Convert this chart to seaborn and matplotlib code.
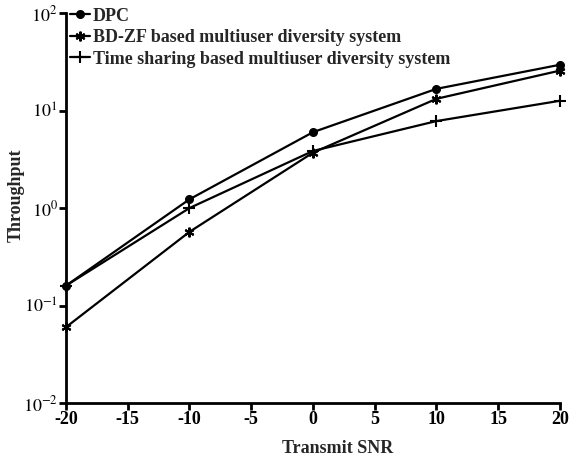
import matplotlib
matplotlib.use("Agg")
import matplotlib.pyplot as plt
import seaborn as sns
import pandas as pd

snr = [-20, -10, 0, 10, 20]
dpc = [0.16, 1.23, 6.0, 16.7, 29.5]
bdzf = [0.06, 0.57, 3.7, 13.2, 25.7]
tshare = [0.16, 1.0, 3.85, 7.8, 12.6]
names = ["DPC", "BD-ZF based multiuser diversity system",
         "Time sharing based multiuser diversity system"]
xticks = [-20, -15, -10, -5, 0, 5, 10, 15, 20]
markers = ["o", (6, 2, 0), "+"]
msizes = [5, 7, 8]

sns.set_style("ticks")
plt.rcParams['font.family'] = ['Liberation Serif', 'DejaVu Serif']
plt.rcParams['mathtext.fontset'] = 'stix'

fig = plt.figure(figsize=(5.71, 4.62), dpi=100)
ax = fig.add_axes([0.1156, 0.1277, 0.865, 0.844])
for vals, name, mk, ms in zip([dpc, bdzf, tshare], names, markers, msizes):
    d = pd.DataFrame({"snr": snr, "thr": vals})
    sns.lineplot(data=d, x="snr", y="thr", color="black", marker=mk,
                 markersize=ms, markeredgewidth=1.5, linewidth=1.6,
                 markeredgecolor="black", label=name, ax=ax, clip_on=False)
ax.set_yscale("log")
ax.set_ylim(1e-2, 1e2)
ax.set_xlim(-20, 20)
ax.set_xticks(xticks)
ax.set_xticklabels([str(t) for t in xticks])
ax.minorticks_off()
ax.set_yticks([1e-2, 1e-1, 1e0, 1e1, 1e2])
ax.set_yticklabels([r"$10^{-2}$", r"$10^{-1}$", r"$10^{0}$", r"$10^{1}$", r"$10^{2}$"])
for s in ["top", "right"]:
    ax.spines[s].set_visible(False)
for s in ["left", "bottom"]:
    ax.spines[s].set_linewidth(2)
    ax.spines[s].set_color("black")
ax.tick_params(axis="both", width=2, length=5, labelsize=13, direction="out",
               pad=1, color="black", labelcolor="black")
for lab in ax.get_xticklabels():
    lab.set_fontweight("bold")
ax.set_xlabel("Transmit SNR", fontsize=13, fontweight="bold")
ax.set_ylabel("Throughput", fontsize=13, fontweight="bold")
ax.xaxis.set_label_coords(0.549, -0.095)
ax.yaxis.set_label_coords(-0.083, 0.533)
leg = ax.legend(loc="upper left", bbox_to_anchor=(0.008, 1.014), frameon=False,
                fontsize=13, handlelength=1.1, handletextpad=0.15,
                labelspacing=0.25, borderaxespad=0, borderpad=0)
for t in leg.get_texts():
    t.set_fontweight("bold")
fig.savefig("out.png", dpi=100)
